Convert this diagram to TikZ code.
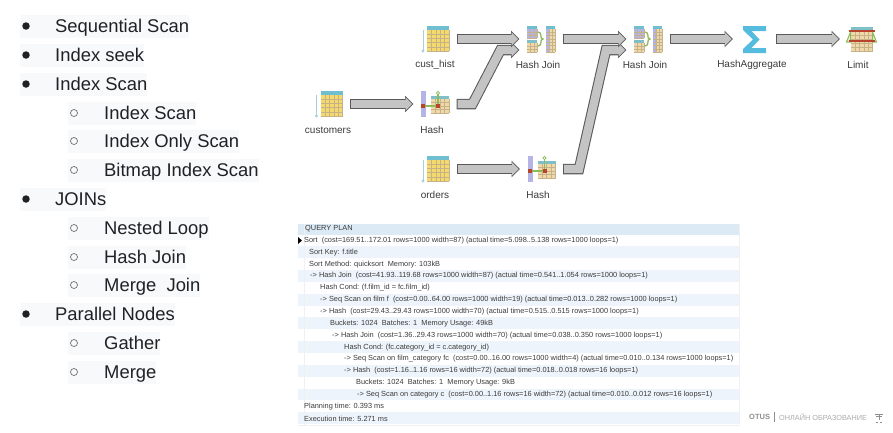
\documentclass[tikz,border=0pt]{standalone}
\usepackage{fontspec}
\setmainfont{Liberation Sans}
\usetikzlibrary{arrows.meta}
\definecolor{listink}{HTML}{202124}
\definecolor{listpale}{HTML}{F8F9FA}
\definecolor{planink}{HTML}{3A3A3A}
\definecolor{arrowedge}{HTML}{5A5A5A}
\definecolor{arrowbody}{HTML}{C4C4C4}
\definecolor{tablehead}{HTML}{6FBFD0}
\definecolor{tablecell}{HTML}{F5D96B}
\definecolor{tanhead}{HTML}{7FBFC8}
\definecolor{tancell}{HTML}{F0D8A8}
\definecolor{violetcell}{HTML}{B4B4E6}
\definecolor{stemblue}{HTML}{A8D0DC}
\definecolor{hashgreen}{HTML}{8DBB5A}
\definecolor{hashred}{HTML}{B8442E}
\definecolor{sigmablue}{HTML}{55BCE0}
\definecolor{rowblue}{HTML}{EEF4FB}
\definecolor{headblue}{HTML}{DCEAF5}
\definecolor{otusgrey}{HTML}{8E8E8E}
% grid of thin cell lines: x0, y0, x1, y1, columns, rows
\newcommand{\cellgrid}[6]{
  \foreach \n in {1,...,#5} {
    \draw [cellline] ({#1+(#3-#1)*\n/#5},#2) -- ({#1+(#3-#1)*\n/#5},#4);
  };
  \foreach \n in {1,...,#6} {
    \draw [cellline] (#1,{#2+(#4-#2)*\n/#6}) -- (#3,{#2+(#4-#2)*\n/#6});
  };
}
\tikzset{
  iconbox/.style={minimum width=29, minimum height=26, inner sep=0, outer sep=7},
  planlabel/.style={font=\fontsize{10}{12}\selectfont, text=planink, inner sep=0},
  planarrow/.style={draw=arrowedge, line width=10.5, line join=miter,
    -{Triangle[length=8.5,width=16]},
    postaction={draw=arrowbody, line width=8.4, shorten <=1, shorten >=1.4,
      -{Triangle[length=6.6,width=13]}}},
  listrow/.style={anchor=west, inner sep=0, text height=15.5, text depth=3.5, minimum height=23,
    fill=listpale, text=listink, font=\fontsize{18.4}{22}\selectfont},
  rowtext/.style={anchor=west, inner sep=0, text=planink, font=\fontsize{7.38}{9}\selectfont},
  cellline/.style={draw=black!18!tancell, line width=0.35},
  tableicon/.pic={
    \fill [tablecell] (-8,-13) rectangle (14,12);
    \fill [tablehead] (-8,-13) rectangle (14,-9);
    \cellgrid{-8}{-9}{14}{12}{5}{5}
    \draw [stemblue, line width=1] (-12,-9) -- (-12,12);
    \fill [stemblue] (-12,12) circle (1.6);
  },
  hashicon/.pic={
    \fill [violetcell] (-14,-13) rectangle (-9,13);
    \fill [tancell] (-4,-8) rectangle (14,9);
    \fill [tanhead] (-4,-8) rectangle (14,-5);
    \cellgrid{-4}{-5}{14}{9}{4}{4}
    \draw [hashgreen, line width=1.2] (-12,2) -- (3,2) -- (3,-11);
    \draw [hashgreen, line width=0.8, fill=white] (3,-11) circle (1.6);
    \fill [hashred] (-14,0) rectangle (-10,4);
    \fill [hashred] (1,0) rectangle (5,4);
  },
  joinicon/.pic={
    \fill [violetcell] (-14,-13) rectangle (-4,-1);
    \fill [tablehead] (-14,-13) rectangle (-4,-10);
    \cellgrid{-14}{-10}{-4}{-1}{3}{3}
    \fill [tancell] (-14,1) rectangle (-4,13);
    \fill [tanhead] (-14,1) rectangle (-4,4);
    \cellgrid{-14}{4}{-4}{13}{3}{3}
    \draw [hashgreen, line width=1.3] (-3,-7) .. controls (2,-7) and (-2,0) .. (2,0)
      .. controls (-2,0) and (2,7) .. (-3,7);
    \fill [tancell] (5,-13) rectangle (14,13);
    \fill [tablehead] (5,-13) rectangle (14,-10);
    \fill [violetcell] (5,-10) rectangle (7.5,13);
    \cellgrid{5}{-10}{14}{13}{3}{7}
  },
  sumicon/.pic={
    \fill [sigmablue] (-11.5,-13) -- (11.5,-13) -- (11.5,-8) -- (-3,-8) -- (5,0.5)
      -- (-3,9) -- (11.5,9) -- (11.5,14) -- (-11.5,14) -- (-11.5,10) -- (-1.5,0.5)
      -- (-11.5,-9) -- cycle;
  },
  limiticon/.pic={
    \fill [tancell] (-11,-12) rectangle (11,12);
    \fill [tanhead] (-11,-12) rectangle (11,-8);
    \cellgrid{-11}{-8}{11}{12}{5}{5}
    \draw [hashgreen, line width=1, fill=hashgreen!25] (-11,-7) -- (-15,3) -- (-11,3) -- cycle;
    \draw [hashgreen, line width=1, fill=hashgreen!25] (11,-7) -- (15,3) -- (11,3) -- cycle;
    \draw [hashred, line width=1.6] (-13,-8) -- (13,-8);
    \draw [hashred, line width=1.6] (-13,2) -- (13,2);
  },
}
\begin{document}
\begin{tikzpicture}[x=1pt, y=-1pt]
  \useasboundingbox (0,0) rectangle (893,432);
  % left list
  \foreach \i/\y/\txt in {a/26/Sequential Scan, b/55/Index seek, c/84/Index Scan,
    d/199/JOINs, e/314/Parallel Nodes} {
    \node (row\i) [listrow] at (20,\y) {\hspace*{35pt}\txt};
    \node (dot\i) [circle, fill=listink, minimum size=7.5, inner sep=0] at (26,\y) {};
  };
  \foreach \i/\y/\txt in {a/113/Index Scan, b/141/Index Only Scan, c/170/Bitmap Index Scan,
    d/228/Nested Loop, e/257/Hash Join, f/285/Merge\ \ Join, g/343/Gather, h/372/Merge} {
    \node (sub\i) [listrow] at (68,\y) {\hspace*{36pt}\txt};
    \node (ring\i) [circle, draw=listink!65, line width=0.7, minimum size=7, inner sep=0] at (74,\y) {};
  };
  % plan icons
  \node (custhist) [iconbox] at (435,39) {};
  \node (customers) [iconbox] at (328.5,104) {};
  \node (hasha) [iconbox] at (435,104) {};
  \node (orders) [iconbox] at (435,169) {};
  \node (hashb) [iconbox] at (541.5,169) {};
  \node (joina) [iconbox] at (541,39) {};
  \node (joinb) [iconbox] at (648,39) {};
  \node (aggr) [iconbox] at (754.5,39) {};
  \node (limit) [iconbox] at (861.5,39) {};
  \pic at (custhist) {tableicon};
  \pic at (customers) {tableicon};
  \pic at (orders) {tableicon};
  \pic at (hasha) {hashicon};
  \pic at (hashb) {hashicon};
  \pic at (joina) {joinicon};
  \pic at (joinb) {joinicon};
  \pic at (aggr) {sumicon};
  \pic at (limit) {limiticon};
  % plan labels
  \node (custhistname) [planlabel] at (435,65) {cust\_hist};
  \node (customersname) [planlabel] at (328,130) {customers};
  \node (hashaname) [planlabel] at (432,130) {Hash};
  \node (ordersname) [planlabel] at (435,195) {orders};
  \node (hashbname) [planlabel] at (538,195) {Hash};
  \node (joinaname) [planlabel] at (538,65) {Hash Join};
  \node (joinbname) [planlabel] at (645,65) {Hash Join};
  \node (aggrname) [planlabel] at (752,65) {HashAggregate};
  \node (limitname) [planlabel] at (858,65) {Limit};
  % plan arrows
  \draw [planarrow] (hasha.east) -- ++(16,0) -- ++(28,-54) -- ([yshift=-11]joina.west);
  \draw [planarrow] (hashb.east) -- ++(16,0) -- ++(27,-119) -- ([yshift=-11]joinb.west);
  \draw [planarrow] (custhist.east) -- (joina.west);
  \draw [planarrow] (customers.east) -- (hasha.west);
  \draw [planarrow] (orders.east) -- (hashb.west);
  \draw [planarrow] (joina.east) -- (joinb.west);
  \draw [planarrow] (joinb.east) -- (aggr.west);
  \draw [planarrow] (aggr.east) -- (limit.west);
  % query plan table
  \fill [headblue] (298,224) rectangle (739,235);
  \foreach \r in {1,3,...,15} {
    \fill [rowblue] (298,{234.5+11.85*\r}) rectangle (739,{234.5+11.85*(\r+1)});
  };
  \draw [white!88!gray, line width=0.4] (304,224) -- (304,425) (298,425) -- (739,425) (739,224) -- (739,425);
  \node (planhead) [rowtext] at (305,228.5) {QUERY PLAN};
  \fill [black] (298,237) -- (302,240.5) -- (298,244) -- cycle;
  \foreach \i/\xx/\txt in {
    1/304/{Sort\ \ (cost=169.51..172.01 rows=1000 width=87) (actual time=5.098..5.138 rows=1000 loops=1)},
    2/309/{Sort Key: f.title},
    3/309/{Sort Method: quicksort\ \ Memory: 103kB},
    4/310/{-> Hash Join\ \ (cost=41.93..119.68 rows=1000 width=87) (actual time=0.541..1.054 rows=1000 loops=1)},
    5/320/{Hash Cond: (f.film\_id = fc.film\_id)},
    6/320/{-> Seq Scan on film f\ \ (cost=0.00..64.00 rows=1000 width=19) (actual time=0.013..0.282 rows=1000 loops=1)},
    7/320/{-> Hash\ \ (cost=29.43..29.43 rows=1000 width=70) (actual time=0.515..0.515 rows=1000 loops=1)},
    8/330/{Buckets: 1024\ \ Batches: 1\ \ Memory Usage: 49kB},
    9/332/{-> Hash Join\ \ (cost=1.36..29.43 rows=1000 width=70) (actual time=0.038..0.350 rows=1000 loops=1)},
    10/344/{Hash Cond: (fc.category\_id = c.category\_id)},
    11/344/{-> Seq Scan on film\_category fc\ \ (cost=0.00..16.00 rows=1000 width=4) (actual time=0.010..0.134 rows=1000 loops=1)},
    12/344/{-> Hash\ \ (cost=1.16..1.16 rows=16 width=72) (actual time=0.018..0.018 rows=16 loops=1)},
    13/356/{Buckets: 1024\ \ Batches: 1\ \ Memory Usage: 9kB},
    14/357/{-> Seq Scan on category c\ \ (cost=0.00..1.16 rows=16 width=72) (actual time=0.010..0.012 rows=16 loops=1)},
    15/304/{Planning time: 0.393 ms},
    16/304/{Execution time: 5.271 ms}} {
    \node (line\i) [rowtext] at (\xx,{228.6+11.86*\i}) {\txt};
  };
  % footer
  \node (otus) [anchor=west, inner sep=0, text=otusgrey, font=\bfseries\fontsize{7.5}{9}\selectfont] at (749,417) {OTUS};
  \node (school) [anchor=west, inner sep=0, text=otusgrey!75, font=\fontsize{7.3}{9}\selectfont] at (779,417) {ОНЛАЙН ОБРАЗОВАНИЕ};
  \draw [otusgrey, line width=0.5] (774,412) -- (774,422);
  \draw [otusgrey, line width=0.8] (875,414) -- (883,414) (876,416.5) -- (882,416.5) (879,414) -- (879,420) (876,422) -- (878,422) (880,422) -- (882,422);
\end{tikzpicture}
\end{document}
